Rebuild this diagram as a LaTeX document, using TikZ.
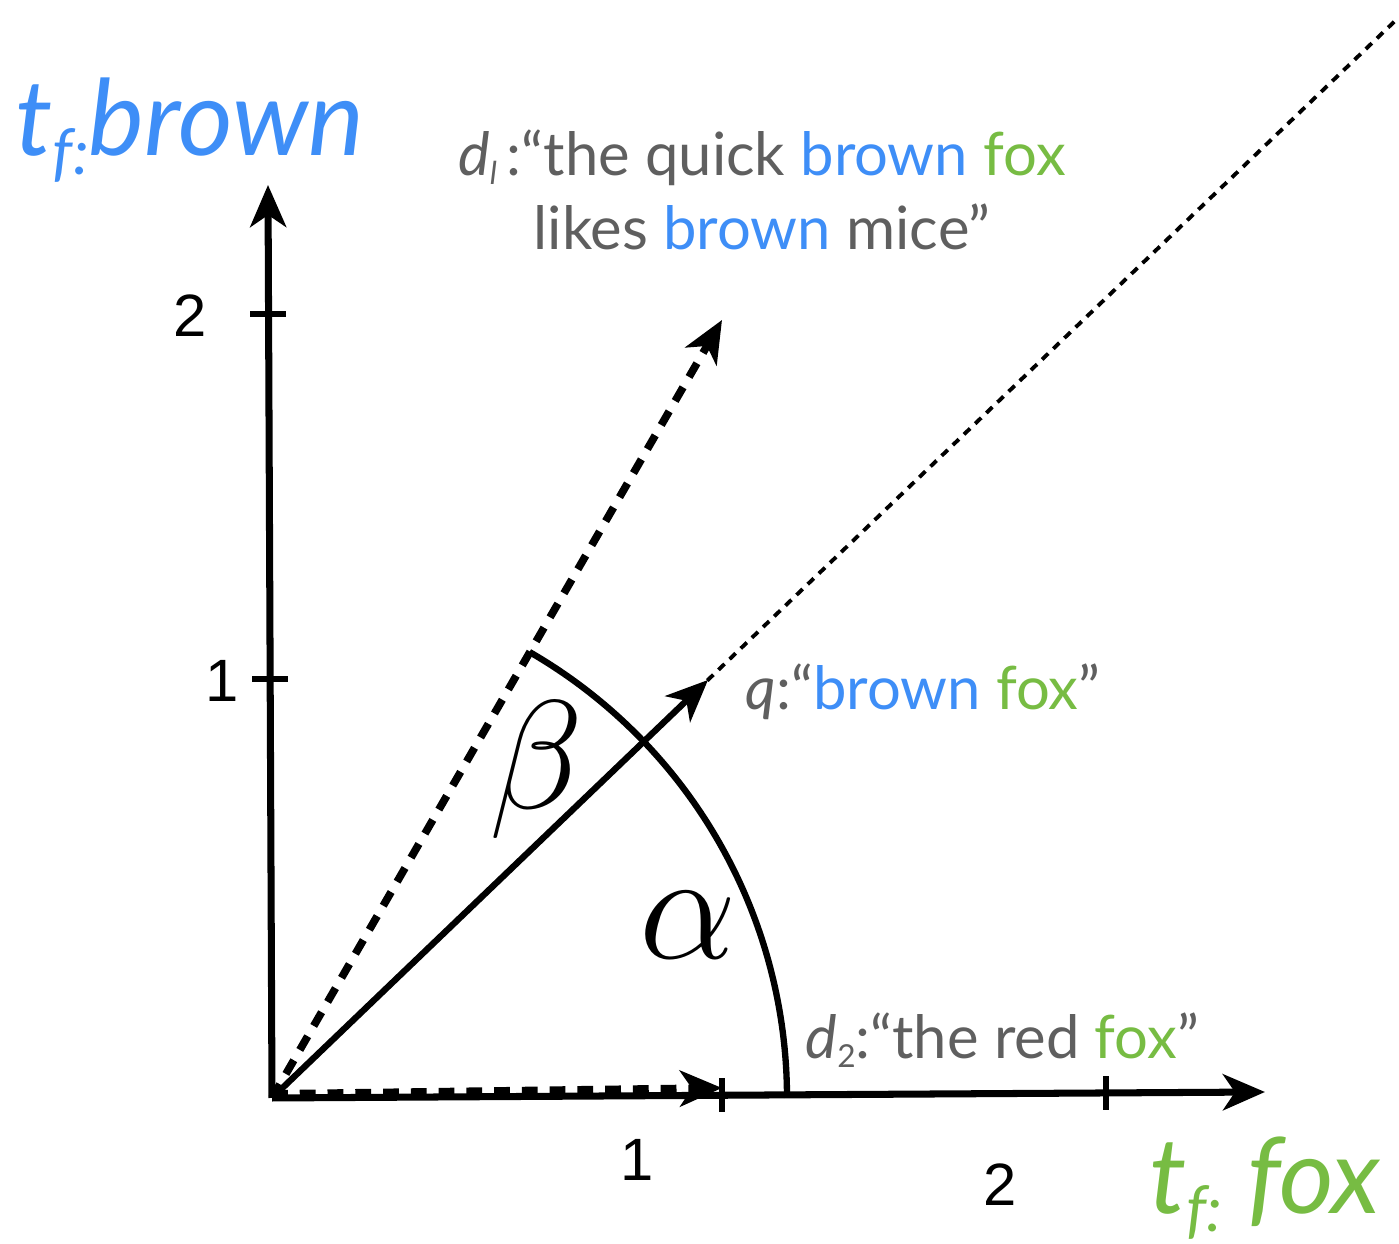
\RequirePackage{fix-cm}
\documentclass[tikz,border=0pt]{standalone}
\usepackage{fontspec}
\setmainfont{Lato}
\newfontfamily\numfont{Liberation Sans}
\usetikzlibrary{arrows.meta,positioning,calc}
\definecolor{tfblue}{RGB}{62,142,247}
\definecolor{tfgreen}{RGB}{119,188,67}
\definecolor{docgray}{RGB}{95,95,95}
\tikzset{
  >={Stealth[length=4.2mm,width=3.6mm,inset=1.2mm]},
  axis/.style={->,line width=2pt},
  vec/.style={->,line width=1.8pt},
  dvec/.style={->,line width=2.2pt,dash pattern=on 4.5pt off 3.4pt},
  tick/.style={line width=1.9pt},
  num/.style={font=\numfont\fontsize{17}{17}\selectfont},
  doc/.style={text=docgray,font=\fontsize{17}{21}\selectfont,align=center,inner sep=0pt},
  tfl/.style={font=\itshape\fontsize{30}{30}\selectfont,inner sep=0pt},
  ang/.style={font=\fontsize{44}{44}\selectfont,inner sep=0pt},
}
\newcommand{\brn}{\textcolor{tfblue}{brown}}
\newcommand{\fx}{\textcolor{tfgreen}{fox}}
\begin{document}
\begin{tikzpicture}
  \useasboundingbox (0,0) rectangle (13.99,12.44);
  % axes
  \coordinate (O) at (2.72,1.46);
  \coordinate (ytop) at (2.68,10.59);
  \coordinate (xend) at (12.65,1.52);
  \draw[axis] (O) -- (ytop);
  \draw[axis] (O) -- (xend);
  \foreach \n/\x/\y in {y2/2.68/9.30,y1/2.70/5.65} {
    \coordinate (\n) at (\x,\y);
    \draw[tick] ([xshift=-1.8mm]\n) -- ([xshift=1.8mm]\n);}
  \foreach \n/\x/\y in {x1/7.22/1.49,x2/11.06/1.51} {
    \coordinate (\n) at (\x,\y);
    \draw[tick] ([yshift=-1.7mm]\n) -- ([yshift=1.7mm]\n);}
  \node[num] (ly2) at (1.90,9.28) {2};
  \node[num] (ly1) at (2.22,5.63) {1};
  \node[num] (lx1) at (6.37,0.84) {1};
  \node[num] (lx2) at (10.00,0.59) {2};
  % vectors
  \coordinate (d1) at (7.22,9.24);
  \coordinate (q) at (7.08,5.64);
  \coordinate (d2) at (7.22,1.56);
  \coordinate (far) at (13.95,12.23);
  \draw[line width=1.1pt,dash pattern=on 2.4pt off 2pt] (O) -- (far);
  \draw[dvec] (O) -- (d1);
  \draw[dvec] ([yshift=0.4mm]O) -- (d2);
  \draw[vec] (O) -- (q);
  \draw[line width=1.8pt] ($(O)+(60:5.15)$) arc[start angle=60,end angle=0,radius=5.15];
  \node[ang] (beta) at (5.37,4.74) {$\beta$};
  \node[ang] (alpha) at (6.88,3.19) {$\alpha$};
  % labels
  \node[tfl,text=tfblue] (tb) at (1.90,11.14) {t\raisebox{-0.35ex}{\fontsize{18}{18}\selectfont f:}brown};
  \node[tfl,text=tfgreen] (tx) at (12.65,0.56) {t\raisebox{-0.35ex}{\fontsize{18}{18}\selectfont f:} fox};
  \node[doc] (dl1) at (7.62,10.54) {\textit{d}\raisebox{-0.3ex}{\itshape\small l}\,:``the quick \brn{} \fx\\likes \brn{} mice''};
  \node[doc,anchor=west] (ql) at (7.45,5.52) {\textit{q}:``\brn{} \fx''};
  \node[doc,anchor=west] (dl2) at (8.05,2.04) {\textit{d}\raisebox{-0.3ex}{\small 2}:``the red \fx''};
\end{tikzpicture}
\end{document}
